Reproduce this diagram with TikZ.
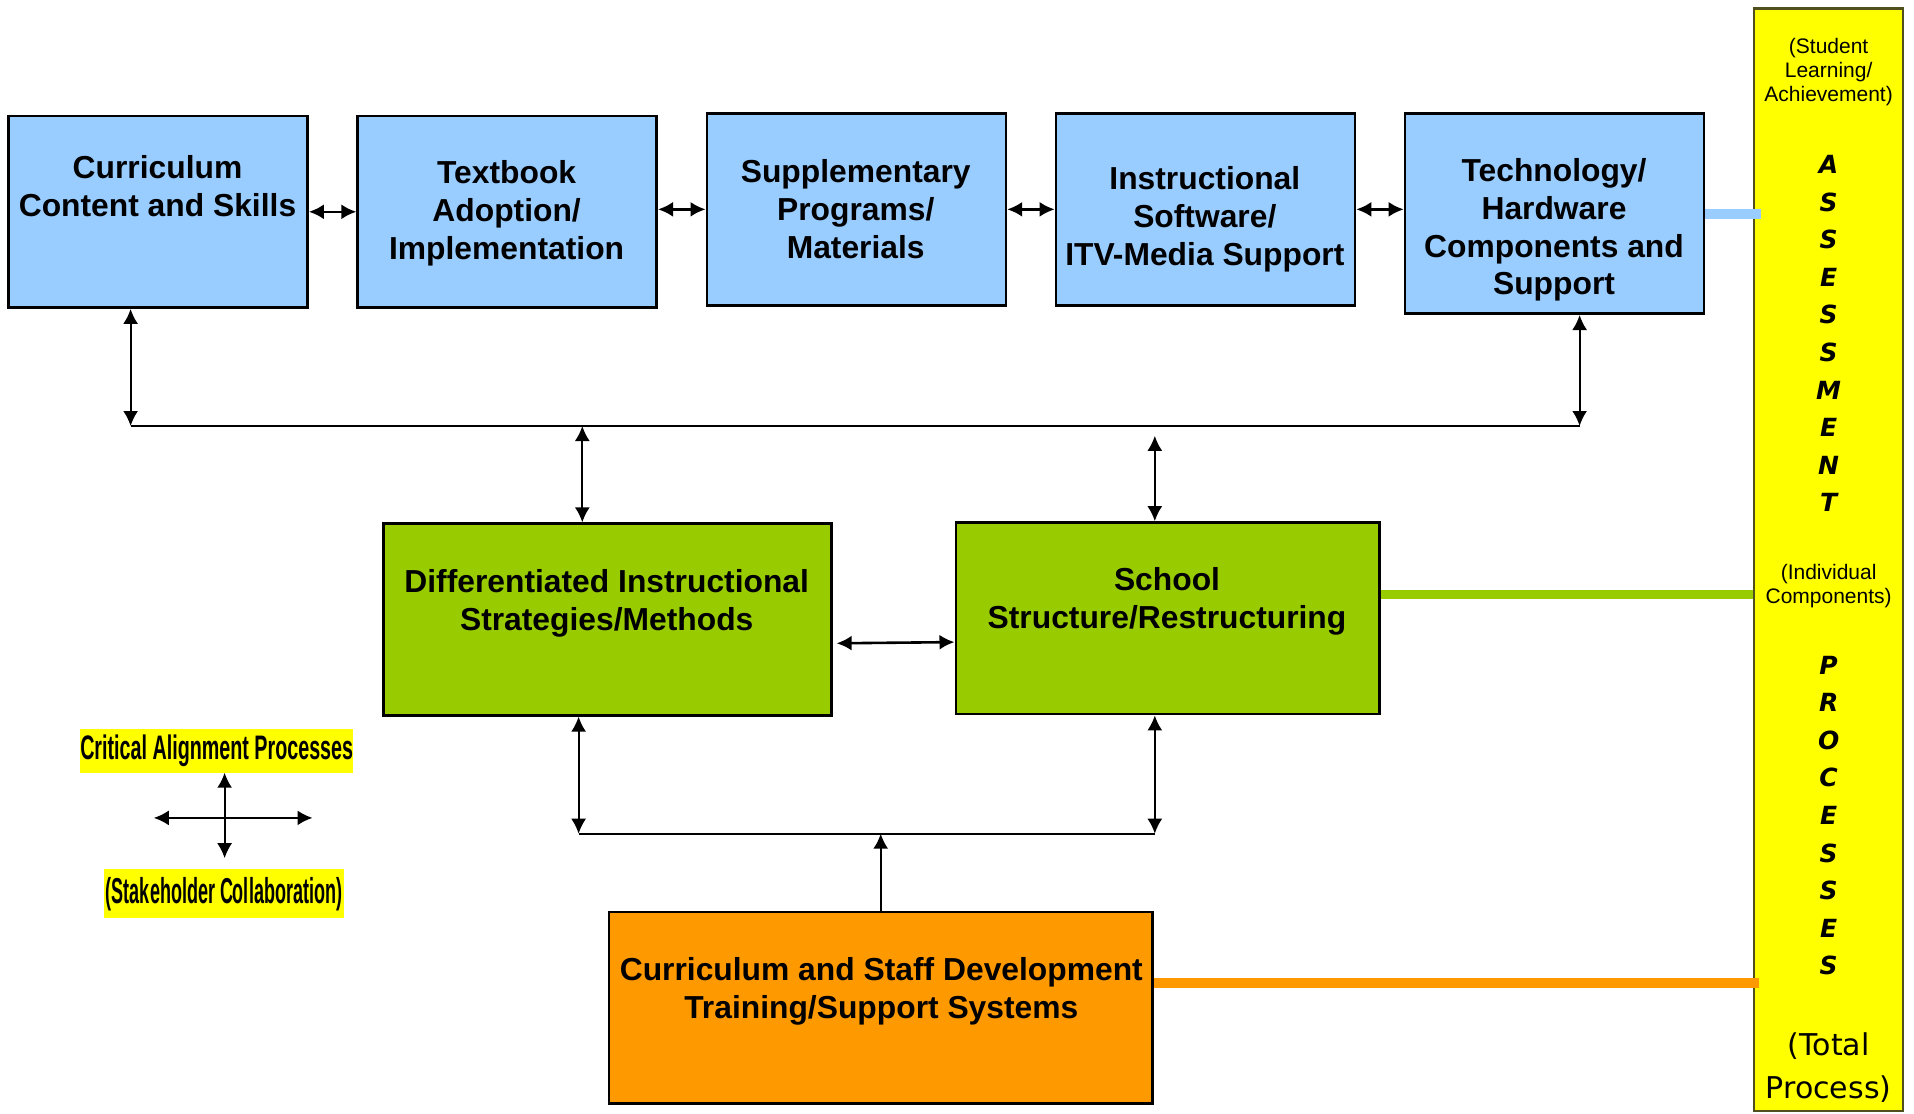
\documentclass[tikz,border=0pt]{standalone}
\usepackage{fontspec}
\setmainfont{Liberation Sans}
\newfontfamily\roundfont{DejaVu Sans}
\usetikzlibrary{arrows.meta}
\definecolor{boxblue}{RGB}{153,204,255}
\definecolor{boxgreen}{RGB}{153,204,0}
\definecolor{boxorange}{RGB}{255,153,0}
\definecolor{baryellow}{RGB}{255,255,0}
\definecolor{barline}{RGB}{80,80,30}
\tikzset{%
    blk/.style={rectangle, draw=black, line width=1.3pt, inner sep=0pt},
    bluebox/.style={blk, fill=boxblue, minimum width=149.5pt},
    txt/.style={align=center, inner sep=0pt, font=\fontsize{15.9}{18.9}\selectfont\bfseries},
    small/.style={align=center, inner sep=0pt, font=\fontsize{10.5}{12.2}\selectfont},
    letters/.style={align=center, inner sep=0pt, font=\fontsize{12.5}{18.8}\selectfont\roundfont\bfseries\itshape},
    tag/.style={fill=baryellow, inner sep=0pt, font=\bfseries},
    dbl/.style={line width=1pt, {Latex[length=7.5pt,width=7.5pt]}-{Latex[length=7.5pt,width=7.5pt]}},
    sgl/.style={line width=1pt, -{Latex[length=7.5pt,width=7.5pt]}},
    bus/.style={line width=1.1pt},
    lnk/.style={line width=5pt}
}

\begin{document}
\begin{tikzpicture}[x=0.5pt,y=-0.5pt]
    \useasboundingbox (0,0) rectangle (1914,1113);
    % assessment bar
    \node[rectangle, draw=barline, line width=1.2pt, fill=baryellow, minimum width=74.4pt, minimum height=551.15pt] (bar) at (1828.6,559.65) {};
    \node[small] (stu) at (1828.6,72.1) {(Student\\Learning/\\Achievement)};
    \node[letters] (assess) at (1828.6,333.5) {A\\S\\S\\E\\S\\S\\M\\E\\N\\T};
    \node[small] (ind) at (1828.6,586) {(Individual\\Components)};
    \node[letters] (proc) at (1828.6,815.5) {P\\R\\O\\C\\E\\S\\S\\E\\S};
    \node[align=center, inner sep=0pt, font=\fontsize{15}{21.4}\selectfont\roundfont] (tot) at (1828.6,1067.5) {(Total\\Process)};

    % top row
    \node[bluebox, minimum height=95.8pt] (cur) at (158.05,211.8) {};
    \node[bluebox, minimum height=95.8pt] (txb) at (507.2,211.8) {};
    \node[bluebox, minimum height=95.85pt] (sup) at (856.35,209.35) {};
    \node[bluebox, minimum height=95.85pt] (ins) at (1205.45,209.35) {};
    \node[bluebox, minimum height=100.1pt] (tec) at (1554.5,213.6) {};
    \node[txt] (cur-t) at (157.5,186) {Curriculum\\Content and Skills};
    \node[txt] (txb-t) at (506.6,213.5) {Textbook\\Adoption/\\Implementation};
    \node[txt] (sup-t) at (855.7,209.2) {Supplementary\\Programs/\\Materials};
    \node[txt] (ins-t) at (1204.8,219.5) {Instructional\\Software/\\ITV-Media Support};
    \node[txt] (tec-t) at (1554,230) {Technology/\\Hardware\\Components and\\Support};
    \draw[dbl, line width=1.3pt] (cur.east) -- (cur.east -| txb.west);
    \draw[dbl, line width=1.3pt] (txb.east |- sup.east) -- (sup.west);
    \draw[dbl, line width=1.3pt] (sup.east) -- (ins.west);
    \draw[dbl, line width=1.3pt] (ins.east) -- (ins.east -| tec.west);

    % upper bus
    \coordinate (busL) at (130.6,426);
    \coordinate (busR) at (1579.6,426);
    \coordinate (upA) at (582.3,426);
    \coordinate (upB) at (1154.8,435.8);
    \draw[dbl] (cur.south -| busL) -- (busL);
    \draw[dbl] (tec.south -| busR) -- (busR);
    \draw[bus] (busL) -- (busR);

    % middle row
    \node[blk, fill=boxgreen, minimum width=224pt, minimum height=95.8pt] (dif) at (607.3,619.5) {};
    \node[blk, fill=boxgreen, minimum width=211.8pt, minimum height=95.8pt] (sch) at (1167.6,618.3) {};
    \node[txt] (dif-t) at (606.7,603.5) {Differentiated Instructional\\Strategies/Methods};
    \node[txt] (sch-t) at (1167,601.5) {School\\Structure/Restructuring};
    \draw[dbl] (upA) -- (dif.north -| upA);
    \draw[dbl] (upB) -- (sch.north -| upB);
    \draw[dbl, line width=1.3pt] ([xshift=2pt,yshift=-11.9pt]dif.east) -- ([yshift=-11.9pt]sch.west);

    % lower bus
    \coordinate (lowL) at (578.6,833.7);
    \coordinate (lowR) at (1154.8,833.7);
    \draw[dbl] (dif.south -| lowL) -- (lowL);
    \draw[dbl] (sch.south -| lowR) -- (lowR);
    \draw[bus] (lowL) -- (lowR);

    % bottom box
    \node[blk, fill=boxorange, minimum width=271.6pt, minimum height=95.8pt] (csd) at (880.7,1007.7) {};
    \node[txt] (csd-t) at (881.3,991.7) {Curriculum and Staff Development\\Training/Support Systems};
    \draw[sgl] (csd.north) -- (csd.north |- lowL);

    % links to the bar
    \draw[lnk, boxblue] (tec.east) -- ([xshift=4pt]tec.east -| bar.west);
    \draw[lnk, boxgreen, line width=4.3pt] ([yshift=11.9pt]sch.east) -- ([yshift=11.9pt]sch.east -| bar.west);
    \draw[lnk, boxorange] ([yshift=12.5pt]csd.east) -- ([xshift=3pt,yshift=12.5pt]csd.east -| bar.west);

    % legend
    \node[tag, minimum width=136pt, minimum height=22pt] (crit) at (216.7,750.7) {\fontsize{17}{18}\selectfont\scalebox{0.58}[1]{Critical Alignment Processes}};
    \node[tag, minimum width=120pt, minimum height=24.5pt] (stk) at (224,893.7) {\fontsize{18}{19}\selectfont\scalebox{0.5}[1]{(Stakeholder Collaboration)}};
    \coordinate (crL) at (153.8,817.9);
    \coordinate (crR) at (312.5,817.9);
    \coordinate (crT) at (224.6,772.7);
    \coordinate (crB) at (224.6,858.2);
    \draw[dbl] (crL) -- (crR);
    \draw[dbl] (crT) -- (crB);
\end{tikzpicture}
\end{document}
